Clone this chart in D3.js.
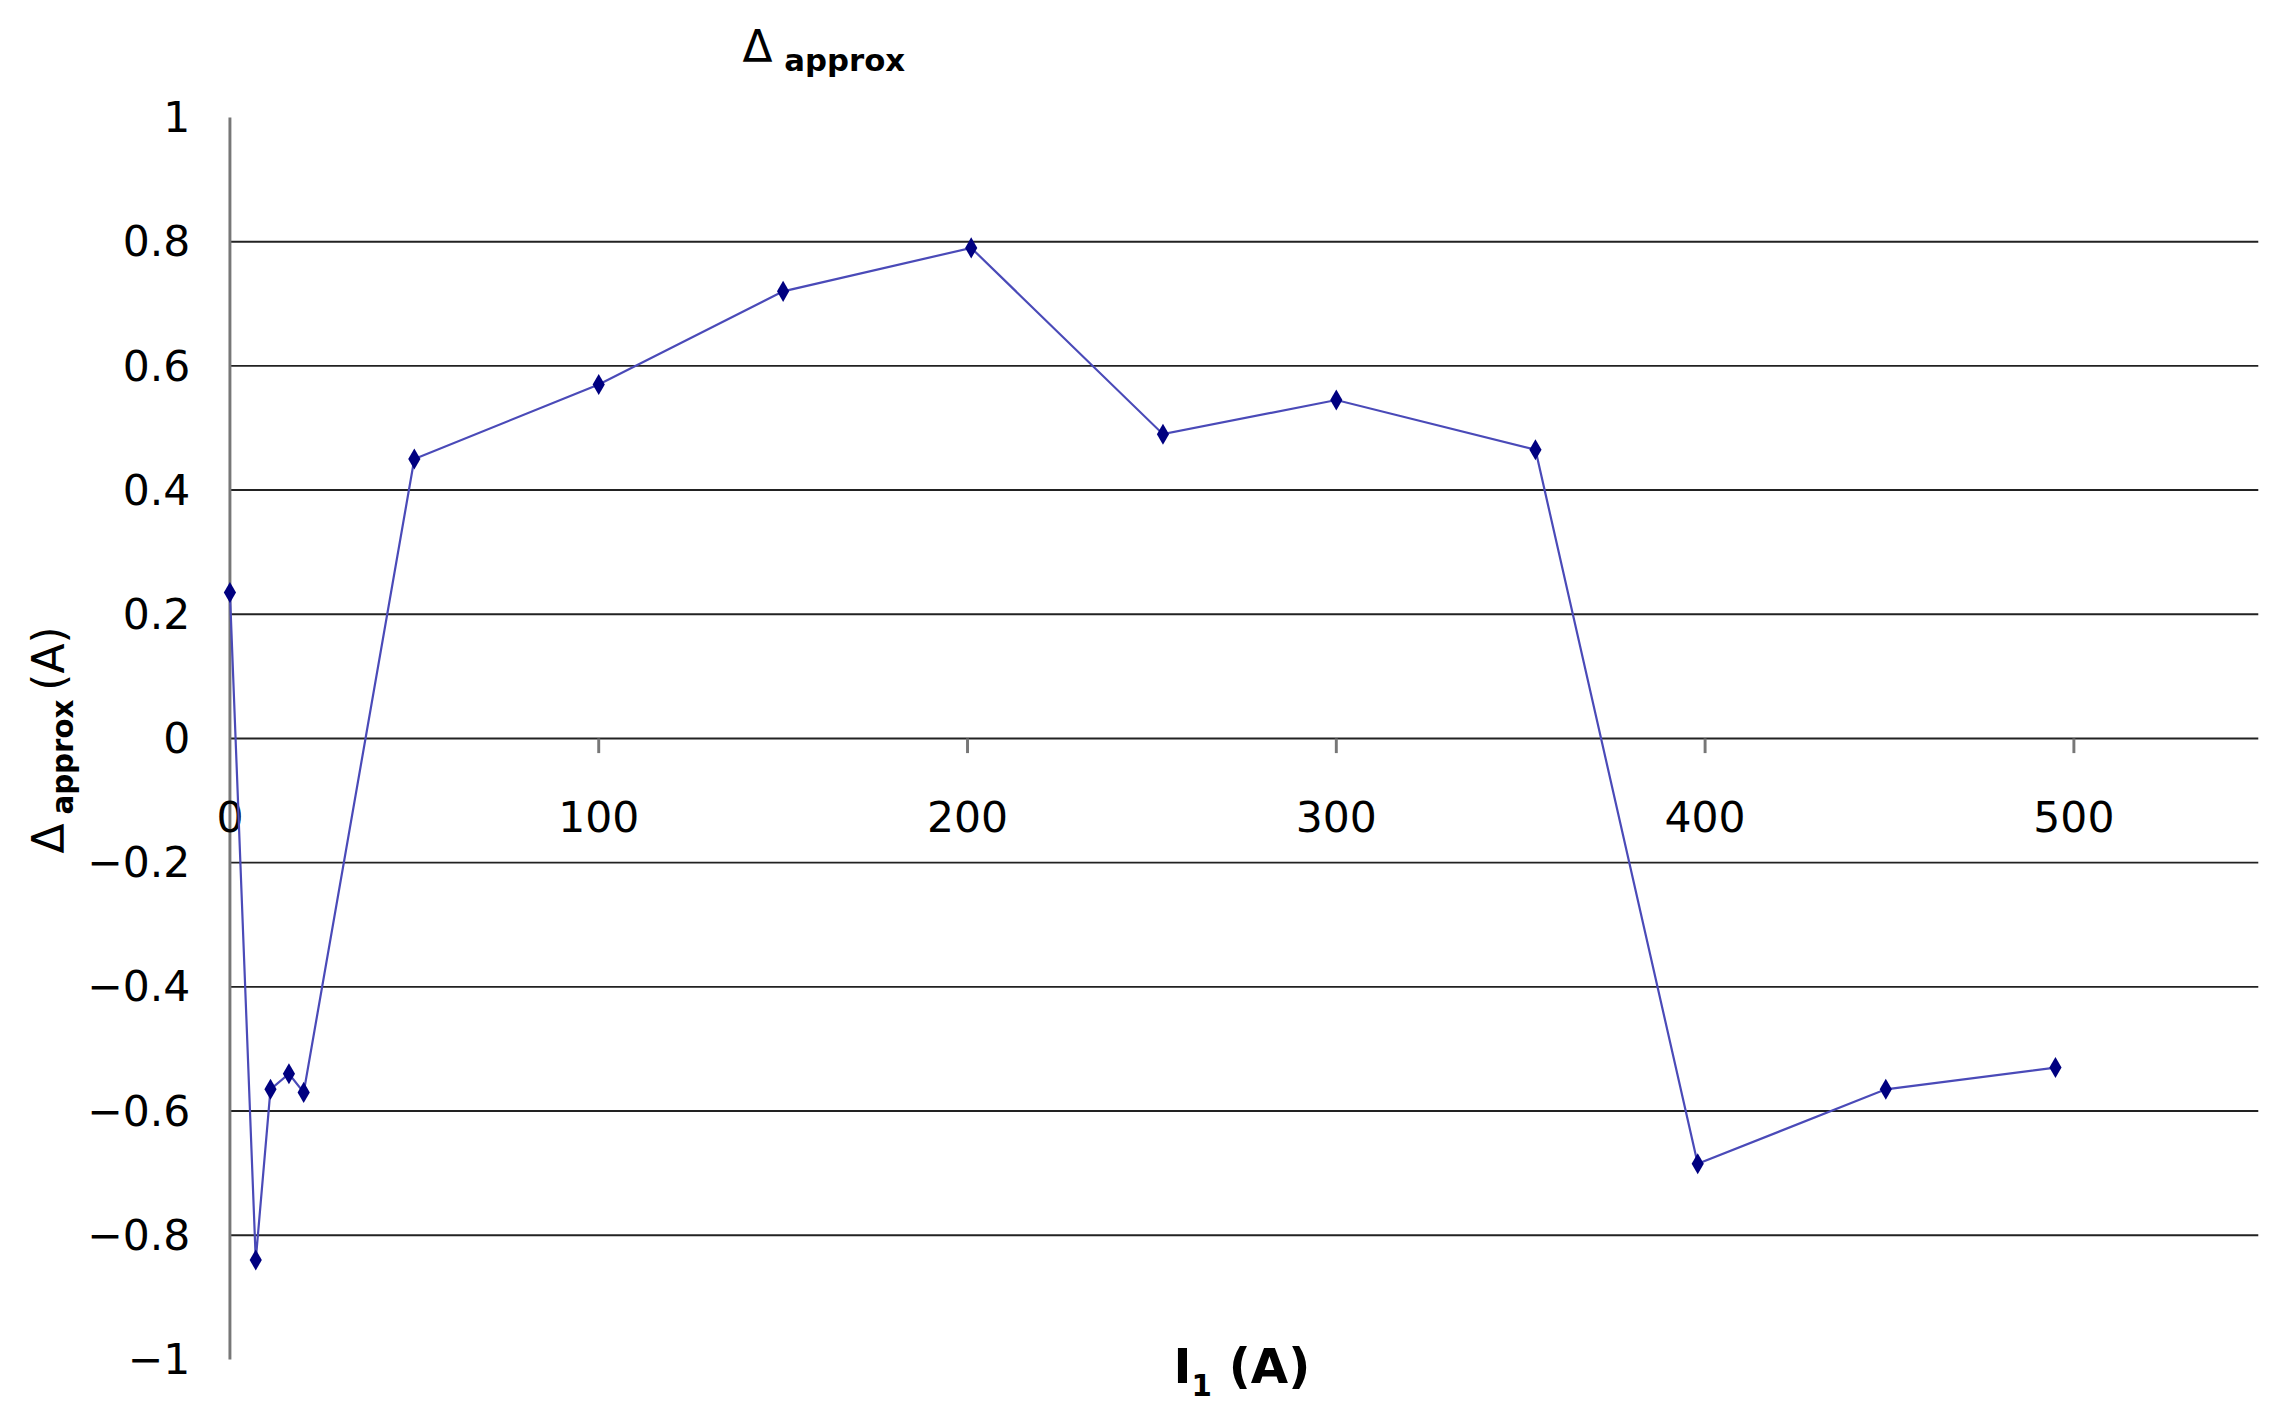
<!DOCTYPE html>
<html>
<head>
<meta charset="utf-8">
<script src="https://cdn.jsdelivr.net/npm/d3@7"></script>
<style>
  body { margin: 0; background: #fff; }
  text { font-family: "DejaVu Sans", Verdana, sans-serif; }
</style>
</head>
<body>
<div id="chart"></div>
<script>
// Data
const currents = [0, 7, 11, 16, 20, 50, 100, 150, 201, 253, 300, 354, 398, 449, 495];
const deltas = [0.235, -0.84, -0.565, -0.54, -0.57, 0.45, 0.57, 0.72, 0.79, 0.49, 0.545, 0.465, -0.685, -0.565, -0.53];
const xTicks = [0, 100, 200, 300, 400, 500];
const yTicks = [-1, -0.8, -0.6, -0.4, -0.2, 0, 0.2, 0.4, 0.6, 0.8, 1];

// work in the reference's displayed coordinates, scale up via viewBox
const W = 1550, H = 963;
const svg = d3.select('#chart').append('svg')
  .attr('width', 2270).attr('height', 1411)
  .attr('viewBox', `0 0 ${W} ${H}`);

const x = d3.scaleLinear().domain([0, 550]).range([157, 1542]);
const y = d3.scaleLinear().domain([-1, 1]).range([928, 80]);

// gridlines
svg.append('g').selectAll('line')
  .data(yTicks.filter(d => d !== 1 && d !== -1))
  .enter().append('line')
  .attr('x1', x(0)).attr('x2', x(550))
  .attr('y1', d => y(d)).attr('y2', d => y(d))
  .attr('stroke', '#222').attr('stroke-width', 1.3);

// y axis
svg.append('line')
  .attr('x1', x(0)).attr('x2', x(0)).attr('y1', y(1)).attr('y2', y(-1))
  .attr('stroke', '#777').attr('stroke-width', 2);

svg.append('g').selectAll('text')
  .data(yTicks).enter().append('text')
  .attr('x', 130).attr('y', d => y(d) + 10)
  .attr('text-anchor', 'end').attr('font-size', 29)
  .text(d => d < 0 ? '\u2212' + Math.abs(d) : String(d));

// x axis ticks along zero line
svg.append('g').selectAll('line')
  .data(xTicks.filter(d => d > 0)).enter().append('line')
  .attr('x1', d => x(d)).attr('x2', d => x(d))
  .attr('y1', y(0)).attr('y2', y(0) + 10)
  .attr('stroke', '#777').attr('stroke-width', 2);

svg.append('g').selectAll('text')
  .data(xTicks).enter().append('text')
  .attr('x', d => x(d)).attr('y', y(0) + 64)
  .attr('text-anchor', 'middle').attr('font-size', 29)
  .text(d => d);

// series
const line = d3.line().x((d, i) => x(currents[i])).y(d => y(d));
svg.append('path').datum(deltas)
  .attr('d', line).attr('fill', 'none')
  .attr('stroke', '#4a4ab8').attr('stroke-width', 1.5);

svg.append('g').selectAll('path')
  .data(deltas).enter().append('path')
  .attr('d', d3.symbol().type(d3.symbolDiamond).size(60))
  .attr('transform', (d, i) => `translate(${x(currents[i])},${y(d)})`)
  .attr('fill', '#000080');

// titles
const title = svg.append('text').attr('x', 507).attr('y', 42).attr('font-size', 30);
title.append('tspan').text('\u0394');
title.append('tspan').attr('dx', 8).attr('dy', 6).attr('font-size', 21).attr('font-weight', 'bold').text('approx');

const xl = svg.append('text').attr('x', 848).attr('y', 944)
  .attr('text-anchor', 'middle').attr('font-size', 33).attr('font-weight', 'bold');
xl.append('tspan').text('I');
xl.append('tspan').attr('dy', 9).attr('font-size', 20).text('1');
xl.append('tspan').attr('dy', -9).text(' (A)');

const yl = svg.append('text')
  .attr('transform', `translate(44,505) rotate(-90)`)
  .attr('text-anchor', 'middle').attr('font-size', 30);
yl.append('tspan').text('\u0394');
yl.append('tspan').attr('dx', 6).attr('dy', 6).attr('font-size', 20).attr('font-weight', 'bold').text('approx');
yl.append('tspan').attr('dx', 6).attr('dy', -6).text('(A)');
</script>
</body>
</html>
